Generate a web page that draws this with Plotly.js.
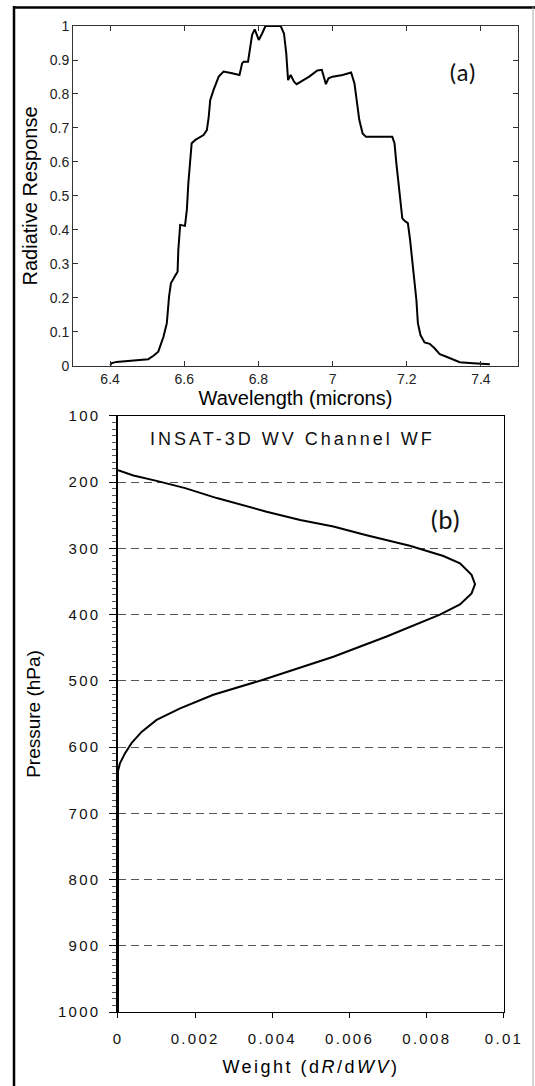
<!DOCTYPE html>
<html>
<head>
<meta charset="utf-8">
<script src="https://cdn.plot.ly/plotly-3.0.1.min.js"></script>
<style>
  html, body { margin: 0; padding: 0; background: #fff; }
  #chart { width: 535px; height: 1086px; }
  .x2tick text, .y2tick text { letter-spacing: 2.3px; }
  .x2title { letter-spacing: 2.5px; }
  g.annotation[data-index="2"] text { letter-spacing: 3px; }
</style>
</head>
<body>
<div id="chart"></div>
<script>
// ---- Panel (a): spectral response ----
const wavelength = [6.401, 6.403, 6.417, 6.476, 6.503, 6.517, 6.530, 6.544, 6.553, 6.559, 6.564, 6.577, 6.582,
  6.584, 6.589, 6.602, 6.607, 6.611, 6.619, 6.620, 6.630, 6.652, 6.661, 6.666, 6.670, 6.679, 6.693, 6.706,
  6.729, 6.749, 6.756, 6.760, 6.772, 6.779, 6.783, 6.790, 6.801, 6.810, 6.819, 6.860, 6.869, 6.875, 6.880,
  6.887, 6.896, 6.903, 6.937, 6.959, 6.971, 6.975, 6.982, 6.989, 7.000, 7.027, 7.050, 7.059, 7.065, 7.072,
  7.081, 7.090, 7.161, 7.167, 7.172, 7.179, 7.182, 7.188, 7.194, 7.203, 7.209, 7.217, 7.226, 7.230, 7.237,
  7.248, 7.262, 7.275, 7.289, 7.307, 7.330, 7.343, 7.379, 7.415, 7.424];
const response = [0.002, 0.008, 0.012, 0.016, 0.020, 0.030, 0.042, 0.086, 0.126, 0.204, 0.243, 0.268, 0.277,
  0.341, 0.415, 0.412, 0.459, 0.537, 0.635, 0.655, 0.665, 0.679, 0.694, 0.733, 0.782, 0.812, 0.851, 0.866,
  0.861, 0.856, 0.890, 0.895, 0.895, 0.939, 0.974, 0.990, 0.959, 0.978, 1.000, 1.000, 0.978, 0.920, 0.841,
  0.856, 0.836, 0.829, 0.851, 0.869, 0.871, 0.856, 0.829, 0.846, 0.851, 0.856, 0.863, 0.831, 0.782, 0.724,
  0.684, 0.674, 0.674, 0.655, 0.596, 0.527, 0.488, 0.434, 0.427, 0.420, 0.371, 0.292, 0.194, 0.126, 0.091,
  0.069, 0.065, 0.052, 0.035, 0.027, 0.018, 0.011, 0.008, 0.006, 0.005];
const wavelengthTicks = [6.4, 6.6, 6.8, 7.0, 7.2, 7.4];

// ---- Panel (b): weighting function ----
const weight = [0, 0.00040, 0.00100, 0.00174, 0.00256, 0.00342, 0.00385, 0.00472, 0.00558, 0.00644, 0.00756,
  0.00843, 0.00886, 0.00916, 0.00925, 0.00916, 0.00886, 0.00834, 0.00696, 0.00558, 0.00372, 0.00247,
  0.00161, 0.00100, 0.00061, 0.00035, 0.00018, 0.00005, 0, 0];
const pressure = [182, 190, 198, 209, 224, 238.5, 244.6, 257, 267, 280, 296,
  311.5, 322.5, 340, 354, 368, 384.5, 400, 433, 463.6, 499, 521,
  541.6, 559, 577, 594, 609.5, 624.6, 636, 1000];
const weightTicks = [0, 0.002, 0.004, 0.006, 0.008, 0.01];
const weightTickText = ['0', '0.002', '0.004', '0.006', '0.008', '0.01'];
const pressureTicks = [100, 200, 300, 400, 500, 600, 700, 800, 900, 1000];

const FAM = 'Liberation Sans, Arial, sans-serif';
const tickFontA = {family: FAM, size: 14, color: '#222'};
const titleFontA = {family: FAM, size: 20, color: '#000'};
const tickFontB = {family: FAM, size: 15, color: '#111'};

const traces = [
  {x: wavelength, y: response, xaxis: 'x', yaxis: 'y', type: 'scatter', mode: 'lines',
   line: {color: '#000', width: 2}, hoverinfo: 'skip'},
  {x: weight, y: pressure, xaxis: 'x2', yaxis: 'y2', type: 'scatter', mode: 'lines',
   line: {color: '#000', width: 2}, hoverinfo: 'skip'}
];

const layout = {
  width: 535, height: 1086,
  margin: {l: 73, r: 17, t: 26, b: 74},
  paper_bgcolor: '#fff', plot_bgcolor: '#fff',
  showlegend: false,
  xaxis: {domain: [0, 1], anchor: 'y', range: [6.3, 7.5], tickvals: wavelengthTicks,
    ticks: 'inside', ticklen: 5, tickcolor: '#333', mirror: 'ticks', showline: true, linecolor: '#333', linewidth: 1,
    showgrid: false, zeroline: false, tickfont: tickFontA,
    title: {text: 'Wavelength (microns)', font: titleFontA, standoff: 3}},
  yaxis: {domain: [0.6552, 1], anchor: 'x', range: [0, 1], dtick: 0.1,
    ticks: 'inside', ticklen: 5, tickcolor: '#333', mirror: 'ticks', showline: true, linecolor: '#333', linewidth: 1,
    showgrid: false, zeroline: false, tickfont: tickFontA,
    title: {text: 'Radiative Response', font: titleFontA, standoff: 6}},
  xaxis2: {domain: [0.1011, 0.9685], anchor: 'y2', range: [0, 0.01], tickvals: weightTicks, ticktext: weightTickText,
    ticks: 'outside', ticklen: 5, tickcolor: '#000', ticklabelstandoff: 8,
    showline: true, mirror: true, linecolor: '#000', linewidth: 1,
    showgrid: false, zeroline: false, tickfont: tickFontB,
    title: {text: 'Weight (d<i>R</i>/d<i>WV</i>)', font: {family: FAM, size: 18, color: '#000'}, standoff: 14}},
  yaxis2: {domain: [0, 0.6045], anchor: 'x2', range: [1000, 100], tickvals: pressureTicks,
    ticks: 'outside', ticklen: 7, tickcolor: '#000', tickwidth: 1, ticklabelstandoff: 6,
    minor: {dtick: 10, ticks: 'outside', ticklen: 4, tickwidth: 1, tickcolor: '#555', showgrid: false},
    showline: true, mirror: true, linecolor: '#000', linewidth: 1.5,
    showgrid: true, gridcolor: '#555', gridwidth: 1, griddash: '8px,5px', zeroline: false, tickfont: tickFontB,
    title: {text: 'Pressure (hPa)', font: {family: FAM, size: 19, color: '#000'}, standoff: 12}},
  annotations: [
    {text: '(a)', xref: 'paper', yref: 'paper', x: (462 - 73) / 445, y: (1012 - 72) / 986,
     xanchor: 'center', yanchor: 'middle', showarrow: false,
     font: {family: 'Carlito, Lato, sans-serif', size: 25, color: '#111'}},
    {text: '(b)', xref: 'paper', yref: 'paper', x: (445 - 73) / 445, y: (1012 - 519) / 986,
     xanchor: 'center', yanchor: 'middle', showarrow: false,
     font: {family: 'Carlito, Lato, sans-serif', size: 27, color: '#111'}},
    {text: 'INSAT-3D WV Channel WF', xref: 'paper', yref: 'paper', x: (292 - 73) / 445, y: (1012 - 439) / 986,
     xanchor: 'center', yanchor: 'middle', showarrow: false,
     font: {family: FAM, size: 18, color: '#111'}}
  ],
  shapes: [
    {type: 'line', xref: 'paper', yref: 'paper', x0: (14 - 73) / 445, x1: (14 - 73) / 445,
     y0: (1012 - 6) / 986, y1: (1012 - 1090) / 986, line: {color: '#000', width: 2.5}},
    {type: 'line', xref: 'paper', yref: 'paper', x0: (13 - 73) / 445, x1: (536 - 73) / 445,
     y0: (1012 - 7.5) / 986, y1: (1012 - 7.5) / 986, line: {color: '#000', width: 2.5}},
    {type: 'line', xref: 'paper', yref: 'paper', x0: (533 - 73) / 445, x1: (533 - 73) / 445,
     y0: (1012 - 7) / 986, y1: (1012 - 1090) / 986, line: {color: '#aaa', width: 1}}
  ]
};

Plotly.newPlot('chart', traces, layout, {staticPlot: true, displayModeBar: false});
</script>
</body>
</html>
